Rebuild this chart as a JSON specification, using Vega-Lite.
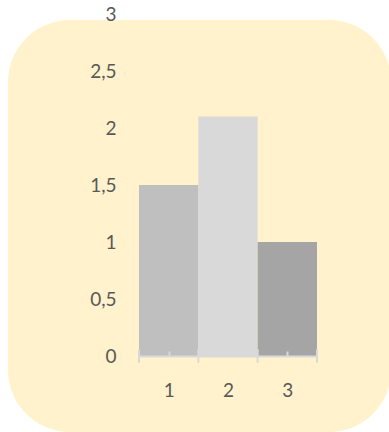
{
  "$schema": "https://vega.github.io/schema/vega-lite/v6.json",
  "width": 178,
  "height": 342,
  "autosize": {"type": "none"},
  "padding": {"left": 139, "top": 14, "right": 72, "bottom": 76},
  "background": "white",
  "config": {"view": {"stroke": null}, "font": "Lato", "axis": {"zindex": 1, "labelFontSize": 19, "labelColor": "#595959", "labelFont": "Lato"}},
  "layer": [
    {
      "data": {"values": [{"shape": "background"}]},
      "mark": {"type": "rect", "color": "#FFF2CC", "cornerRadius": 62},
      "encoding": {
        "x": {"datum": -1.708, "type": "quantitative", "title": null, "scale": {"domain": [0.5, 3.5], "nice": false, "zero": false, "padding": 0}},
        "x2": {"datum": 4.75},
        "y": {"datum": -0.667, "type": "quantitative", "title": null, "scale": {"domain": [0, 3], "nice": false, "zero": false}},
        "y2": {"datum": 2.947}
      }
    },
    {
      "data": {"values": [
        {"category": 1, "value": 1.5},
        {"category": 2, "value": 2.1},
        {"category": 3, "value": 1.0}
      ]},
      "mark": {"type": "bar", "width": 59.33},
      "encoding": {
        "x": {
          "field": "category", "type": "quantitative",
          "scale": {"domain": [0.5, 3.5], "nice": false, "zero": false, "padding": 0},
          "axis": {
            "values": [1, 2, 3],
            "format": "d",
            "labelOverlap": false,
            "title": null, "grid": false, "zindex": 1,
            "domainColor": "#D9D9D9", "domainWidth": 2,
            "tickColor": "#D9D9D9", "tickWidth": 2, "tickSize": -5,
            "labelPadding": 30, "labelFontSize": 19, "labelColor": "#595959",
            "labelFont": "Lato"
          }
        },
        "y": {
          "field": "value", "type": "quantitative",
          "scale": {"domain": [0, 3], "nice": false, "zero": false},
          "axis": {
            "values": [0, 0.5, 1, 1.5, 2, 2.5, 3],
            "format": "~g",
            "labelExpr": "replace(datum.label, '.', ',')",
            "title": null, "grid": false, "domain": false, "ticks": false, "tickSize": 0, "zindex": 1,
            "labelPadding": 23, "labelFontSize": 19, "labelColor": "#595959",
            "labelFont": "Lato"
          }
        },
        "color": {
          "field": "category", "type": "nominal",
          "scale": {"domain": [1, 2, 3], "range": ["#BFBFBF", "#D9D9D9", "#A5A5A5"]},
          "legend": null
        }
      }
    },
    {
      "data": {"values": [{"edge": 0.5}, {"edge": 1.5}, {"edge": 2.5}, {"edge": 3.5}]},
      "mark": {"type": "rule", "color": "#D9D9D9", "strokeWidth": 2},
      "encoding": {
        "x": {"field": "edge", "type": "quantitative", "title": null},
        "y": {"datum": 0.06, "type": "quantitative", "title": null},
        "y2": {"datum": -0.06}
      }
    }
  ]
}
